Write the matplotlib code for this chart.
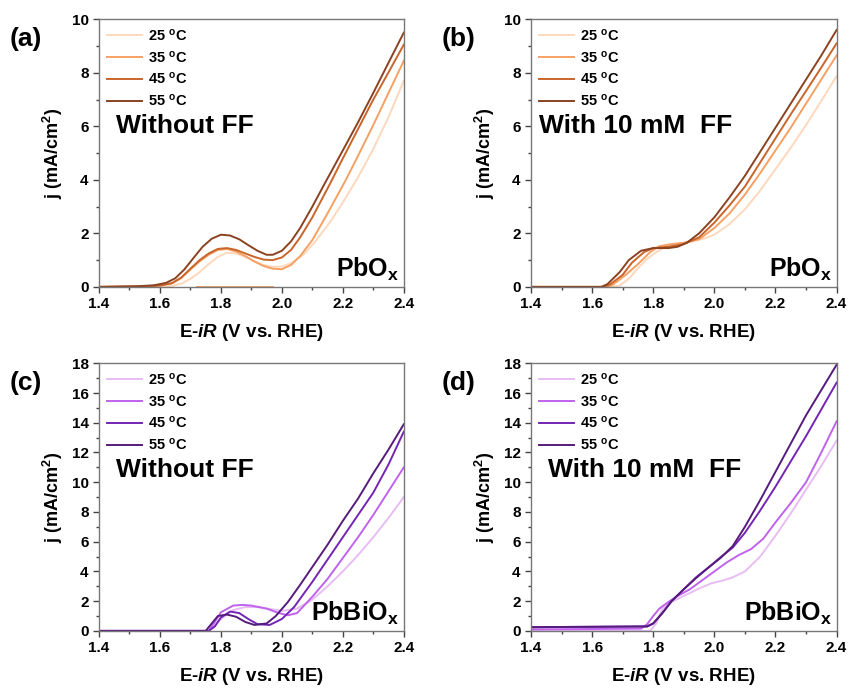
import matplotlib.pyplot as plt
from matplotlib.ticker import MultipleLocator
import numpy as np

plt.rcParams['font.family'] = 'Liberation Sans'
plt.rcParams['font.weight'] = 'bold'
plt.rcParams['mathtext.fontset'] = 'custom'
plt.rcParams['mathtext.rm'] = 'Liberation Sans:bold'
plt.rcParams['mathtext.it'] = 'Liberation Sans:italic:bold'
plt.rcParams['mathtext.bf'] = 'Liberation Sans:bold'

temps = ["25", "35", "45", "55"]
orange_colors = ["#fdd8bc", "#f7a064", "#c9652a", "#8b4220"]
purple_colors = ["#e7bdf4", "#c062ee", "#7425b4", "#551c7c"]

# (a) PbOx, without FF
a_x = [[1.40, 1.60, 1.64, 1.67, 1.70, 1.73, 1.76, 1.79, 1.82, 1.85, 1.88, 1.91, 1.94, 1.97, 2.00, 2.03, 2.07, 2.11, 2.16, 2.20, 2.25, 2.30, 2.35, 2.40],
       [1.40, 1.55, 1.60, 1.64, 1.67, 1.70, 1.73, 1.76, 1.79, 1.82, 1.85, 1.88, 1.91, 1.94, 1.97, 2.00, 2.03, 2.06, 2.10, 2.15, 2.21, 2.25, 2.30, 2.35, 2.40],
       [1.40, 1.55, 1.60, 1.64, 1.67, 1.70, 1.73, 1.76, 1.79, 1.82, 1.85, 1.88, 1.91, 1.94, 1.97, 2.00, 2.03, 2.06, 2.10, 2.16, 2.20, 2.25, 2.30, 2.35, 2.40],
       [1.40, 1.52, 1.58, 1.62, 1.65, 1.68, 1.71, 1.74, 1.77, 1.80, 1.83, 1.86, 1.89, 1.92, 1.95, 1.97, 2.00, 2.03, 2.06, 2.10, 2.14, 2.20, 2.25, 2.30, 2.35, 2.40]]
a_y = [[0.00, 0.01, 0.04, 0.12, 0.30, 0.55, 0.85, 1.12, 1.28, 1.25, 1.12, 0.95, 0.82, 0.75, 0.76, 0.88, 1.20, 1.70, 2.45, 3.15, 4.10, 5.15, 6.35, 7.70],
       [0.00, 0.02, 0.05, 0.14, 0.33, 0.65, 0.95, 1.20, 1.38, 1.42, 1.32, 1.15, 0.95, 0.78, 0.68, 0.66, 0.82, 1.15, 1.75, 2.75, 4.00, 4.90, 6.05, 7.25, 8.45],
       [0.00, 0.02, 0.05, 0.14, 0.35, 0.68, 1.00, 1.25, 1.42, 1.45, 1.38, 1.25, 1.12, 1.02, 1.00, 1.10, 1.38, 1.85, 2.60, 3.90, 4.80, 5.90, 7.00, 8.02, 9.05],
       [0.00, 0.02, 0.06, 0.15, 0.32, 0.65, 1.08, 1.50, 1.80, 1.95, 1.92, 1.78, 1.56, 1.35, 1.20, 1.20, 1.35, 1.70, 2.20, 3.00, 3.85, 5.10, 6.15, 7.25, 8.38, 9.50]]
a_base_x = [1.72, 1.97]
a_base_y = [0.0, 0.0]

# (b) PbOx, with 10 mM FF
b_x = [[1.40, 1.66, 1.69, 1.72, 1.75, 1.78, 1.81, 1.84, 1.88, 1.93, 1.97, 2.00, 2.05, 2.10, 2.15, 2.20, 2.25, 2.30, 2.35, 2.40],
       [1.40, 1.65, 1.67, 1.71, 1.75, 1.79, 1.82, 1.86, 1.90, 1.95, 2.00, 2.05, 2.10, 2.15, 2.20, 2.25, 2.30, 2.35, 2.40],
       [1.40, 1.64, 1.66, 1.70, 1.73, 1.77, 1.80, 1.85, 1.90, 1.95, 2.00, 2.05, 2.10, 2.15, 2.20, 2.25, 2.30, 2.35, 2.40],
       [1.40, 1.63, 1.65, 1.69, 1.72, 1.76, 1.80, 1.85, 1.88, 1.91, 1.95, 2.00, 2.05, 2.10, 2.15, 2.20, 2.25, 2.30, 2.35, 2.40]]
b_y = [[0.00, 0.00, 0.05, 0.30, 0.70, 1.05, 1.30, 1.50, 1.60, 1.70, 1.82, 1.95, 2.35, 2.90, 3.60, 4.40, 5.20, 6.05, 6.95, 7.88],
       [0.00, 0.00, 0.10, 0.45, 0.85, 1.30, 1.52, 1.60, 1.65, 1.78, 2.20, 2.75, 3.45, 4.25, 5.10, 5.95, 6.85, 7.75, 8.65],
       [0.00, 0.00, 0.10, 0.45, 0.90, 1.30, 1.45, 1.50, 1.60, 1.85, 2.40, 3.05, 3.75, 4.65, 5.55, 6.45, 7.32, 8.20, 9.10],
       [0.00, 0.00, 0.10, 0.55, 1.00, 1.35, 1.45, 1.45, 1.50, 1.65, 2.00, 2.60, 3.35, 4.15, 5.05, 5.95, 6.85, 7.75, 8.65, 9.60]]

# (c) PbBiOx, without FF
c_x = [[1.40, 1.76, 1.78, 1.80, 1.84, 1.88, 1.92, 1.97, 2.00, 2.05, 2.10, 2.15, 2.20, 2.25, 2.30, 2.35, 2.40],
       [1.40, 1.76, 1.78, 1.80, 1.84, 1.87, 1.90, 1.95, 1.99, 2.02, 2.05, 2.10, 2.15, 2.20, 2.25, 2.30, 2.35, 2.40],
       [1.40, 1.76, 1.78, 1.80, 1.83, 1.86, 1.89, 1.92, 1.96, 2.00, 2.04, 2.10, 2.15, 2.20, 2.25, 2.30, 2.35, 2.40],
       [1.40, 1.75, 1.77, 1.79, 1.82, 1.85, 1.88, 1.91, 1.95, 1.98, 2.02, 2.06, 2.10, 2.15, 2.20, 2.25, 2.30, 2.35, 2.40]]
c_y = [[0.00, 0.00, 0.35, 0.80, 1.40, 1.60, 1.60, 1.45, 1.35, 1.50, 2.10, 3.00, 4.00, 5.10, 6.30, 7.60, 9.00],
       [0.00, 0.00, 0.60, 1.25, 1.70, 1.75, 1.70, 1.50, 1.20, 1.05, 1.20, 2.30, 3.50, 4.90, 6.30, 7.80, 9.40, 11.00],
       [0.00, 0.00, 0.30, 0.90, 1.30, 1.20, 0.80, 0.45, 0.40, 0.80, 1.60, 3.30, 4.80, 6.30, 7.80, 9.30, 11.20, 13.40],
       [0.00, 0.00, 0.50, 1.00, 1.10, 0.95, 0.60, 0.40, 0.50, 1.00, 1.95, 3.10, 4.30, 5.80, 7.40, 8.90, 10.60, 12.20, 13.90]]

# (d) PbBiOx, with 10 mM FF
d_x = [[1.40, 1.79, 1.81, 1.83, 1.86, 1.90, 1.95, 1.99, 2.03, 2.06, 2.10, 2.15, 2.20, 2.25, 2.30, 2.35, 2.40],
       [1.40, 1.76, 1.78, 1.80, 1.82, 1.85, 1.88, 1.92, 1.96, 2.00, 2.04, 2.08, 2.12, 2.16, 2.20, 2.25, 2.30, 2.35, 2.40],
       [1.40, 1.78, 1.80, 1.83, 1.86, 1.90, 1.94, 1.98, 2.02, 2.06, 2.10, 2.15, 2.20, 2.25, 2.30, 2.35, 2.40],
       [1.40, 1.78, 1.80, 1.83, 1.86, 1.90, 1.94, 1.98, 2.02, 2.06, 2.10, 2.15, 2.20, 2.25, 2.30, 2.35, 2.40]]
d_y = [[0.00, 0.00, 0.50, 1.50, 1.95, 2.35, 2.85, 3.20, 3.40, 3.60, 4.00, 5.00, 6.40, 7.90, 9.50, 11.10, 12.80],
       [0.10, 0.15, 0.45, 1.00, 1.50, 1.95, 2.35, 2.80, 3.40, 4.00, 4.60, 5.10, 5.50, 6.20, 7.30, 8.60, 10.00, 12.00, 14.10],
       [0.25, 0.30, 0.50, 1.20, 2.00, 2.80, 3.60, 4.25, 4.95, 5.60, 6.60, 8.10, 9.70, 11.40, 13.10, 14.90, 16.70],
       [0.25, 0.30, 0.50, 1.20, 2.00, 2.80, 3.55, 4.25, 4.90, 5.70, 7.00, 8.80, 10.70, 12.60, 14.50, 16.20, 17.90]]

panels = [
    ("(a)", a_x, a_y, orange_colors, 10, 2, "Without FF", r"PbO$_\mathregular{x}$"),
    ("(b)", b_x, b_y, orange_colors, 10, 2, "With 10 mM  FF", r"PbO$_\mathregular{x}$"),
    ("(c)", c_x, c_y, purple_colors, 18, 2, "Without FF", r"PbBiO$_\mathregular{x}$"),
    ("(d)", d_x, d_y, purple_colors, 18, 2, "With 10 mM  FF", r"PbBiO$_\mathregular{x}$"),
]
positions = [[0.1166, 0.583, 0.359, 0.389],
             [0.6254, 0.583, 0.360, 0.389],
             [0.1166, 0.083, 0.359, 0.389],
             [0.6254, 0.083, 0.360, 0.389]]

fig = plt.figure(figsize=(8.49, 6.88), dpi=100)

for i, (lab, xs, ys, cols, ymax, ystep, note, mat) in enumerate(panels):
    ax = fig.add_axes(positions[i])
    for j in range(4):
        ax.plot(xs[j], ys[j], color=cols[j], lw=1.4, label=temps[j] + r" $^\mathregular{o}$C")
    if i == 0:
        ax.plot(a_base_x, a_base_y, color=cols[1], lw=1.4)
    ax.set_xlim(1.4, 2.4)
    ax.set_ylim(0, ymax)
    ax.xaxis.set_major_locator(MultipleLocator(0.2))
    ax.xaxis.set_minor_locator(MultipleLocator(0.1))
    ax.yaxis.set_major_locator(MultipleLocator(ystep))
    ax.yaxis.set_minor_locator(MultipleLocator(ystep / 2))
    ax.set_xticklabels([f"{v:.1f}" for v in ax.get_xticks()])
    ax.tick_params(which='both', direction='out', labelsize=11, colors='#444444', labelcolor='black')
    ax.tick_params(which='major', length=4, width=1)
    ax.tick_params(which='minor', length=2.5, width=1)
    for s in ax.spines.values():
        s.set_color('#777777')
        s.set_linewidth(1)
    ax.set_xlabel(r"E-$\mathit{iR}$ (V vs. RHE)", fontsize=13.5, fontweight='bold', labelpad=8)
    ax.set_ylabel(r"j (mA/cm$^\mathregular{2}$)", fontsize=13, fontweight='bold', labelpad=5)
    leg = ax.legend(loc='upper left', frameon=False, fontsize=10.5, handlelength=2.4,
                    labelspacing=0.4, borderaxespad=0.0, borderpad=0.55, handletextpad=0.4)
    nx = 0.056 if i != 1 else 0.025
    ny = 0.60
    ax.text(nx, ny, note, transform=ax.transAxes, fontsize=19, fontweight='bold', va='center')
    ax.text(0.985, 0.015, mat, transform=ax.transAxes, fontsize=18, fontweight='bold',
            ha='right', va='bottom')
    fig.text(positions[i][0] - 0.105, positions[i][1] + positions[i][3] - 0.028, lab,
             fontsize=19, fontweight='bold', va='center')

plt.savefig("out.png", dpi=100)
